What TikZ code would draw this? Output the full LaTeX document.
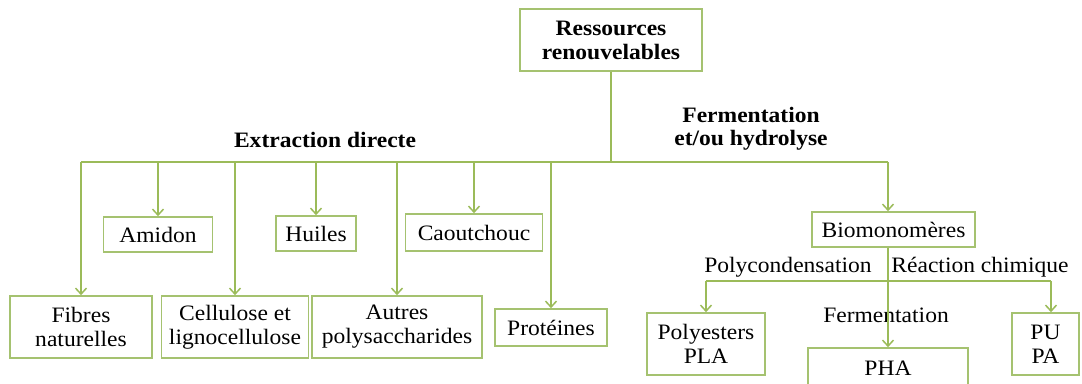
\documentclass[tikz,border=0pt]{standalone}
\usepackage{fontspec}
\setmainfont[FakeStretch=1.07]{Liberation Serif}
\usetikzlibrary{arrows.meta}
\definecolor{lgreen}{RGB}{155,187,89}
\definecolor{bgreen}{RGB}{165,194,112}
\begin{document}
\begin{tikzpicture}[x=1pt,y=-1pt,
  box/.style={draw=bgreen, line width=1.6pt, inner sep=0pt, align=center,
    font=\fontsize{22}{24}\selectfont},
  link/.style={draw=lgreen, line width=1.9pt},
  arr/.style={link, -{Straight Barb[length=6pt,width=11pt,line width=1.5pt]}},
  lab/.style={font=\fontsize{22}{24}\selectfont, align=center, inner sep=0pt},
  blab/.style={inner sep=0pt, align=center, font=\fontsize{22}{23}\selectfont\bfseries}]
\fill[white] (0,0) rectangle (1082,383);
\clip (0,0) rectangle (1082,383);
% boxes
\node[box, font=\fontsize{22}{24}\selectfont\bfseries, minimum width=182pt, minimum height=62pt] (res) at (611,40) {Ressources\\renouvelables};
\node[box, minimum width=109pt, minimum height=35pt] (amidon) at (158,234.5) {Amidon};
\node[box, minimum width=80pt, minimum height=35pt] (huiles) at (316,233.5) {Huiles};
\node[box, minimum width=137pt, minimum height=37pt] (caout) at (474,232.5) {Caoutchouc};
\node[box, minimum width=163pt, minimum height=35pt] (bio) at (893.5,229.5) {Biomonomères};
\node[box, minimum width=142pt, minimum height=62pt] (fibres) at (81,327) {Fibres\\naturelles};
\node[box, minimum width=147pt, minimum height=62pt] (cell) at (235,327) {Cellulose et\\lignocellulose};
\node[box, minimum width=170pt, minimum height=62pt] (autres) at (397,327) {Autres\\polysaccharides};
\node[box, minimum width=112pt, minimum height=37pt] (prot) at (551,327.5) {Protéines};
\node[box, minimum width=118pt, minimum height=62pt] (poly) at (706,344) {Polyesters\\PLA};
\node[box, minimum width=160pt, minimum height=40pt] (pha) at (888,368) {PHA};
\node[box, minimum width=67pt, minimum height=62pt] (pupa) at (1045.5,344) {PU\\PA};
% labels
\node[blab] (extr) at (325,140) {Extraction directe};
\node[blab] (ferm) at (751,129) {Fermentation\\et/ou hydrolyse};
\node[lab] (polyc) at (788,267) {Polycondensation};
\node[lab] (react) at (980,267) {Réaction chimique};
\node[lab] (fermb) at (886,315) {Fermentation};
% main bus
\coordinate (busL) at (81,162);
\coordinate (busR) at (888,162);
\draw[link] (busL) -- (busR);
\draw[link] (res.south) -- (res.south |- busL);
\draw[arr] (busL) -- (fibres.north);
\draw[arr] (amidon.north |- busL) -- (amidon.north);
\draw[arr] (cell.north |- busL) -- (cell.north);
\draw[arr] (huiles.north |- busL) -- (huiles.north);
\draw[arr] (autres.north |- busL) -- (autres.north);
\draw[arr] (caout.north |- busL) -- (caout.north);
\draw[arr] (prot.north |- busL) -- (prot.north);
\draw[arr] (busR) -- (busR |- bio.north);
% second bus
\coordinate (s1) at (706,281);
\coordinate (s2) at (1051,281);
\draw[link] (s1) -- (s2);
\draw[arr] (s1) -- (poly.north);
\draw[arr] (s2) -- (s2 |- pupa.north);
\draw[arr] (bio.south -| busR) -- (pha.north -| busR);
\end{tikzpicture}
\end{document}
